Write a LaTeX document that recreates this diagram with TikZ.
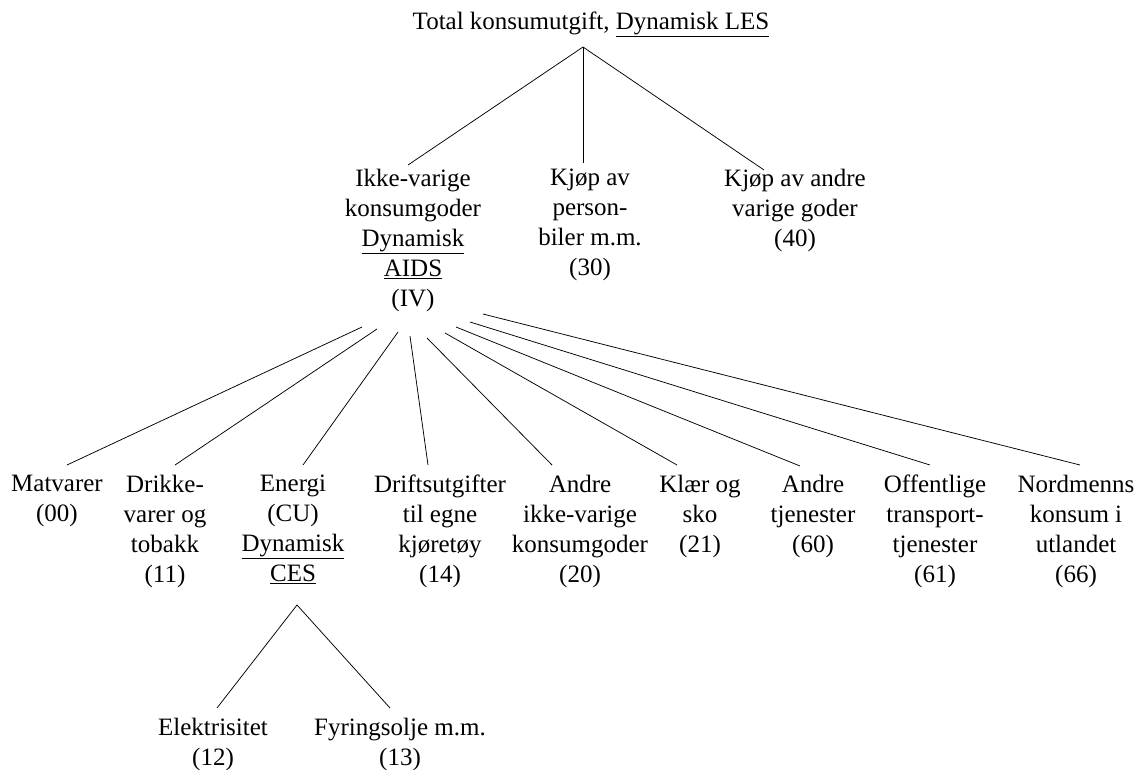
\documentclass[tikz,border=0pt]{standalone}
\usepackage{fontspec}
\setmainfont{Liberation Serif}
\begin{document}
\begin{tikzpicture}[x=1pt,y=-1pt,
  lbl/.style={align=center, inner sep=0pt, anchor=north, font=\fontsize{25}{30}\selectfont},
  conn/.style={draw=black, line width=0.75pt}]
\useasboundingbox (0,0) rectangle (1145,770);
% level 1
\node[lbl] (tot) at (591,12) {Total konsumutgift, \underline{Dynamisk LES}};
% level 2
\node[lbl] (ikke) at (413,169) {Ikke-varige\\konsumgoder\\\underline{Dynamisk}\\\underline{AIDS}\\(IV)};
\node[lbl] (kjop) at (590,169) {Kjøp av\\person-\\biler m.m.\\(30)};
\node[lbl] (varig) at (795,169) {Kjøp av andre\\varige goder\\(40)};
% level 3
\node[lbl] (mat) at (57,475) {Matvarer\\(00)};
\node[lbl] (drikke) at (165,475) {Drikke-\\varer og\\tobakk\\(11)};
\node[lbl] (energi) at (293,475) {Energi\\(CU)\\\underline{Dynamisk}\\\underline{CES}};
\node[lbl] (drift) at (440,475) {Driftsutgifter\\til egne\\kjøretøy\\(14)};
\node[lbl] (aikke) at (580,475) {Andre\\ikke-varige\\konsumgoder\\(20)};
\node[lbl] (klaer) at (700,475) {Klær og\\sko\\(21)};
\node[lbl] (atj) at (813,475) {Andre\\tjenester\\(60)};
\node[lbl] (off) at (935,475) {Offentlige\\transport-\\tjenester\\(61)};
\node[lbl] (nord) at (1076,475) {Nordmenns\\konsum i\\utlandet\\(66)};
% level 4
\node[lbl] (elek) at (213,718) {Elektrisitet\\(12)};
\node[lbl] (fyr) at (400,718) {Fyringsolje m.m.\\(13)};
% connector ends
\coordinate (tot-o) at (583,47);
\coordinate (ikke-i) at (408,165);
\coordinate (kjop-i) at (583,163);
\coordinate (varig-i) at (764,170);
\coordinate (ikke-o1) at (362,327);
\coordinate (ikke-o2) at (377,329);
\coordinate (ikke-o3) at (398,332);
\coordinate (ikke-o4) at (410,336);
\coordinate (ikke-o5) at (427,338);
\coordinate (ikke-o6) at (445,333);
\coordinate (ikke-o7) at (456,327);
\coordinate (ikke-o8) at (470,322);
\coordinate (ikke-o9) at (483,314);
\coordinate (mat-i) at (67,465);
\coordinate (drikke-i) at (175,465);
\coordinate (energi-i) at (303,465);
\coordinate (drift-i) at (428,465);
\coordinate (aikke-i) at (552,465);
\coordinate (klaer-i) at (677,465);
\coordinate (atj-i) at (800,466);
\coordinate (off-i) at (930,465);
\coordinate (nord-i) at (1080,465);
\coordinate (energi-o) at (297,605);
\coordinate (elek-i) at (217,708);
\coordinate (fyr-i) at (390,708);
% connectors
\draw[conn] (ikke-i) -- (tot-o) -- (varig-i);
\draw[conn] (tot-o) -- (kjop-i);
\draw[conn] (ikke-o1) -- (mat-i);
\draw[conn] (ikke-o2) -- (drikke-i);
\draw[conn] (ikke-o3) -- (energi-i);
\draw[conn] (ikke-o4) -- (drift-i);
\draw[conn] (ikke-o5) -- (aikke-i);
\draw[conn] (ikke-o6) -- (klaer-i);
\draw[conn] (ikke-o7) -- (atj-i);
\draw[conn] (ikke-o8) -- (off-i);
\draw[conn] (ikke-o9) -- (nord-i);
\draw[conn] (elek-i) -- (energi-o) -- (fyr-i);
\end{tikzpicture}
\end{document}
